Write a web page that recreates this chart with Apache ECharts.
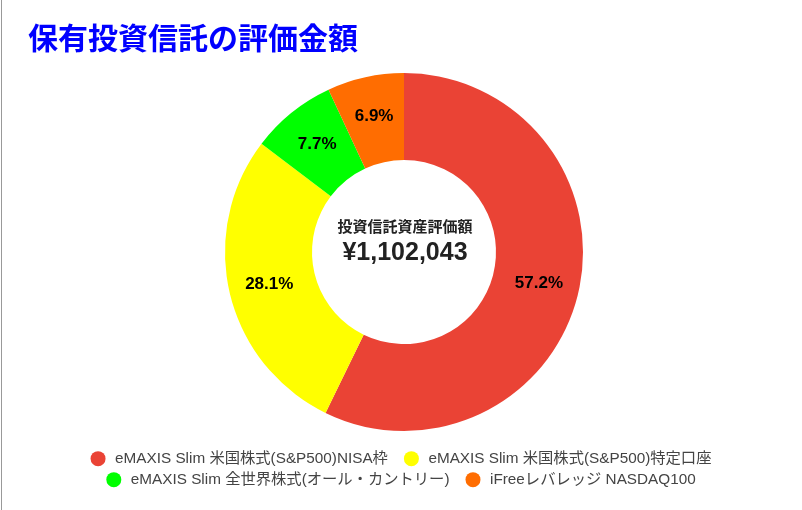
<!DOCTYPE html>
<html>
<head>
<meta charset="utf-8">
<script src="https://cdn.jsdelivr.net/npm/echarts@6/dist/echarts.min.js"></script>
<style>
html,body{margin:0;padding:0;background:#fff;}
#chart{width:802px;height:510px;}
</style>
</head>
<body>
<div id="chart"></div>
<script>
const categories = [
  'eMAXIS Slim 米国株式(S&P500)NISA枠',
  'eMAXIS Slim 米国株式(S&P500)特定口座',
  'eMAXIS Slim 全世界株式(オール・カントリー)',
  'iFreeレバレッジ NASDAQ100'
];
const values = [630620, 309950, 85130, 76343];
const colors = ['#EA4335', '#FFFF00', '#00FF00', '#FF6D01'];

const total = values.reduce((a, b) => a + b, 0);
const FONT = '"Liberation Sans", Arial, "Noto Sans CJK JP", sans-serif';

const legendBase = {
  left: 'center',
  icon: 'circle',
  itemWidth: 24,
  itemHeight: 15,
  itemGap: 16,
  textStyle: { color: '#444', fontSize: 15.3, fontFamily: FONT }
};

const chart = echarts.init(document.getElementById('chart'));
chart.setOption({
  backgroundColor: '#fff',
  color: colors,
  animation: false,
  title: {
    text: '保有投資信託の評価金額',
    left: 23,
    top: 21,
    textStyle: { color: '#0000FF', fontSize: 30, fontWeight: 'bold', fontFamily: FONT }
  },
  legend: [
    Object.assign({}, legendBase, { data: categories.slice(0, 2), top: 446 }),
    Object.assign({}, legendBase, { data: categories.slice(2), top: 467 })
  ],
  graphic: [
    { type: 'line', shape: { x1: 1.5, y1: 0, x2: 1.5, y2: 510 }, style: { stroke: '#999', lineWidth: 1 } },
    {
      type: 'text', x: 405, y: 228,
      style: { text: '投資信託資産評価額', fill: '#222', font: 'bold 15px ' + FONT, textAlign: 'center', textVerticalAlign: 'middle' }
    },
    {
      type: 'text', x: 405, y: 253,
      style: { text: '¥' + total.toLocaleString('en-US'), fill: '#222', font: 'bold 25px ' + FONT, textAlign: 'center', textVerticalAlign: 'middle' }
    }
  ],
  series: [{
    type: 'pie',
    center: [404, 252],
    radius: [92, 179],
    startAngle: 90,
    clockwise: true,
    label: {
      show: true,
      position: 'inside',
      formatter: p => p.percent.toFixed(1) + '%',
      color: '#000',
      fontSize: 17,
      fontWeight: 'bold',
      fontFamily: FONT
    },
    labelLine: { show: false },
    itemStyle: { borderWidth: 0 },
    emphasis: { disabled: true },
    data: categories.map((n, i) => ({ name: n, value: values[i] }))
  }]
});
</script>
</body>
</html>
